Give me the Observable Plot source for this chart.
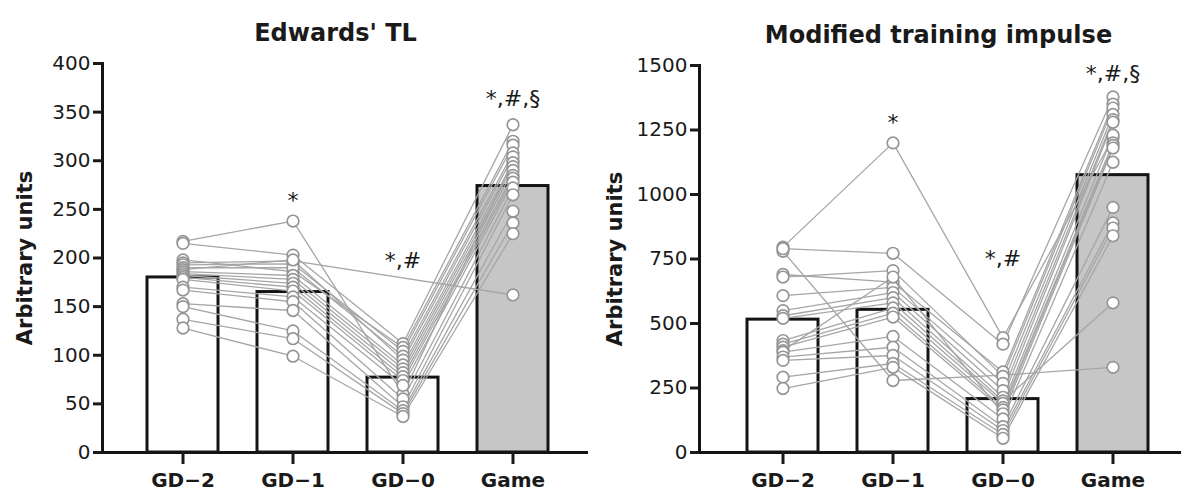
<!DOCTYPE html>
<html><head><meta charset="utf-8">
<script src="https://cdn.jsdelivr.net/npm/d3@7"></script>
<script src="https://cdn.jsdelivr.net/npm/@observablehq/plot@0.6"></script>
<style>
body{margin:0;background:#fff;}
#wrap{display:flex;width:1181px;height:494px;overflow:hidden;}
</style>
</head><body><div id="wrap"></div>
<script>
const days = ["GD\u22122", "GD\u22121", "GD\u22120", "Game"];

// Edwards' TL
const edMeans = [180, 165, 77, 274];
const edGD2  = [217, 215, 198, 195, 193, 190, 188, 186, 184, 182, 180, 178, 170, 167, 153, 150, 137, 128];
const edGD1  = [238, 203, 186, 197, 194, 190, 198, 182, 178, 174, 170, 166, 160, 155, 146, 125, 117, 99];
const edGD0  = [60, 112, 108, null, 104, 99, 95, 90, 86, 82, 78, 74, 69, 55, 47, 43, 40, 37];
const edGame = [300, 337, 320, 162, 316, 308, 304, 298, 294, 290, 285, 282, 278, 272, 265, 248, 236, 225];
const edTicks = [0, 50, 100, 150, 200, 250, 300, 350, 400];
const edNotes = [{day: "GD\u22121", value: 259, label: "*"}, {day: "GD\u22120", value: 197, label: "*,#"}, {day: "Game", value: 364, label: "*,#,§"}];

// Modified training impulse
const trMeans = [515, 553, 207, 1075];
const trGD2  = [796, 780, 790, 690, 680, 608, 550, 530, 520, 434, 420, 408, 395, 389, 370, 357, 292, 248];
const trGD1  = [1200, 279, 772, 660, 705, 640, 620, 600, 580, 560, 540, 525, 680, 450, 408, 376, 345, 330];
const trGD0  = [445, 300, 420, 312, 295, 268, 240, 214, 200, 190, 175, 165, 150, 130, 100, 85, 70, 55];
const trGame = [1220, 330, 1378, 1350, 1335, 1310, 1290, 1280, 580, 1230, 1200, 1190, 1180, 1125, 950, 890, 870, 840];
const trTicks = [0, 250, 500, 750, 1000, 1250, 1500];
const trNotes = [{day: "GD\u22121", value: 1279, label: "*"}, {day: "GD\u22120", value: 752, label: "*,#"}, {day: "Game", value: 1469, label: "*,#,§"}];

function panel({title, means, series, ticks, notes, width, marginLeft, axisEnd, xRange, padding, yMax, yTop, titleDx}) {
  const bars = days.map((d, i) => ({day: d, value: means[i]}));
  const pts = [];
  series.forEach((arr, j) => arr.forEach((v, i) => { if (v != null) pts.push({player: i, day: days[j], value: v}); }));
  return Plot.plot({
    width, height: 494,
    marginLeft, marginRight: width - axisEnd, marginTop: yTop, marginBottom: 494 - 452,
    x: {type: "band", domain: days, range: xRange, padding, axis: null},
    y: {domain: [0, yMax], range: [452, yTop], axis: null},
    style: {fontFamily: "DejaVu Sans", background: "white", color: "#1a1a1a"},
    marks: [
      Plot.barY(bars.filter(d => d.day !== "Game"), {x: "day", y: "value", fill: "white", stroke: "#141414", strokeWidth: 3}),
      Plot.barY(bars.filter(d => d.day === "Game"), {x: "day", y: "value", fill: "#c6c6c6", stroke: "#141414", strokeWidth: 3}),
      Plot.line(pts, {x: "day", y: "value", z: "player", stroke: "#a6a6a6", strokeWidth: 1.3}),
      Plot.dot(pts, {x: "day", y: "value", r: 5.8, stroke: "#959595", strokeWidth: 1.7, fill: "white"}),
      Plot.ruleY([0], {stroke: "#141414", strokeWidth: 3}),
      Plot.frame({anchor: "left", stroke: "#141414", strokeWidth: 3}),
      Plot.axisY({ticks, tickSize: 9, tickPadding: 3, fontSize: 20, strokeWidth: 3, tickFormat: d => String(d), label: null}),
      Plot.axisX({tickSize: 12, tickPadding: 8, fontSize: 20, fontWeight: "bold", strokeWidth: 3, label: null}),
      Plot.text(notes, {x: "day", y: "value", text: "label", fontSize: 22, lineAnchor: "middle"}),
      Plot.text([title], {frameAnchor: "top", textAnchor: "middle", dx: titleDx, dy: -30, lineAnchor: "middle", fontSize: 24, fontWeight: "bold"}),
      Plot.text(["Arbitrary units"], {frameAnchor: "left", textAnchor: "middle", lineAnchor: "middle", rotate: -90, dx: -(marginLeft - 25), fontSize: 21, fontWeight: "bold"})
    ]
  });
}

const wrap = document.getElementById("wrap");
wrap.append(panel({
  title: "Edwards' TL", means: edMeans, series: [edGD2, edGD1, edGD0, edGame], ticks: edTicks, notes: edNotes,
  width: 590, marginLeft: 102, axisEnd: 588, xRange: [105.7, 589.2], padding: 0.356, yMax: 400, yTop: 63, titleDx: -10
}));
wrap.append(panel({
  title: "Modified training impulse", means: trMeans, series: [trGD2, trGD1, trGD0, trGame], ticks: trTicks, notes: trNotes,
  width: 591, marginLeft: 109, axisEnd: 591, xRange: [117.4, 597.4], padding: 0.352, yMax: 1500, yTop: 65, titleDx: -2
}));
</script>
</body></html>
